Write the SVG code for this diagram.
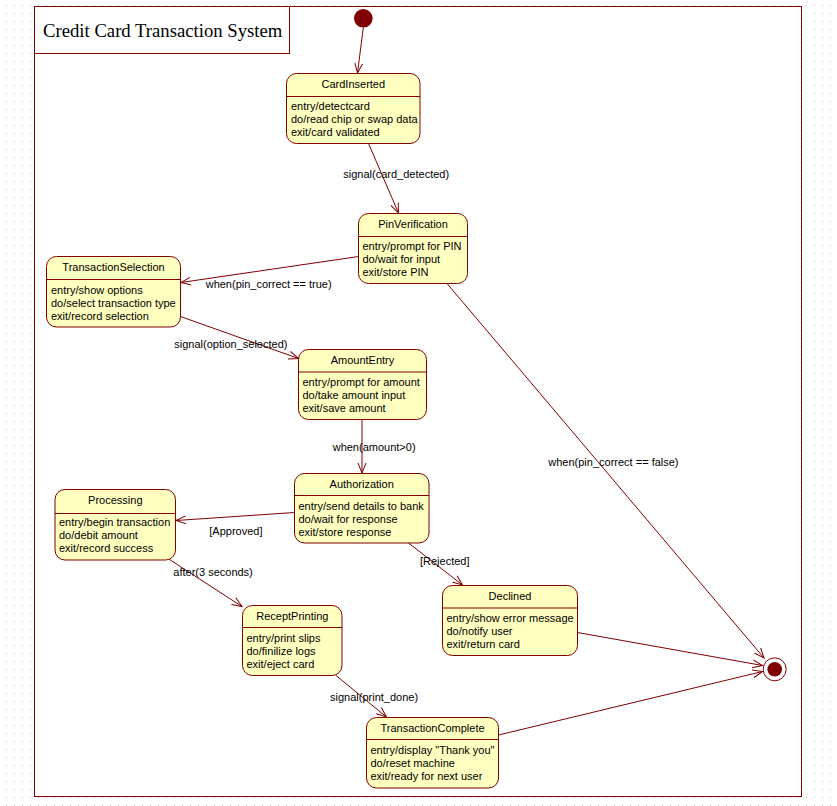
<svg xmlns="http://www.w3.org/2000/svg" width="837" height="806" viewBox="0 0 837 806">
<defs>
<pattern id="grid" x="0" y="0" width="8" height="8" patternUnits="userSpaceOnUse">
<rect x="6" y="5" width="1" height="1" fill="#c4c4c4"/>
</pattern>
<marker id="arr" markerWidth="12" markerHeight="12" refX="10" refY="5" orient="auto" markerUnits="userSpaceOnUse">
<path d="M0,1 L10,5 L0,9" fill="none" stroke="#800000" stroke-width="1"/>
</marker>
</defs>
<style>
.st{fill:#ffffc0;stroke:#800000;stroke-width:1}
.dv{stroke:#800000;stroke-width:1}
.nm{font-family:"Liberation Sans",Arial,sans-serif;font-size:11px;fill:#000;text-anchor:middle}
.bd{font-family:"Liberation Sans",Arial,sans-serif;font-size:11px;fill:#000}
.lb{font-family:"Liberation Sans",Arial,sans-serif;font-size:11px;fill:#000}
.cn{stroke:#800000;stroke-width:1;fill:none;marker-end:url(#arr)}
</style>
<rect width="837" height="806" fill="#ffffff"/>
<rect width="837" height="806" fill="url(#grid)"/>
<rect x="34.5" y="6.5" width="767" height="790" fill="#ffffff" stroke="#800000" stroke-width="1"/>
<g id="title">
<rect x="34.5" y="6.5" width="255" height="47" fill="#ffffff" stroke="#800000" stroke-width="1"/>
<text x="43" y="37" font-family="'Liberation Serif','Times New Roman',serif" font-size="18.7px" fill="#000">Credit Card Transaction System</text>
</g>
<g id="initial">
<circle cx="363.3" cy="18.3" r="9.3" fill="#800000"/>
</g>
<g id="final">
<circle cx="774.7" cy="669.3" r="11.5" fill="#ffffff" stroke="#800000" stroke-width="1"/>
<circle cx="774.7" cy="669.3" r="7.3" fill="#800000"/>
</g>
<g id="CardInserted">
<rect class="st" x="286.5" y="73.5" width="133.5" height="70" rx="10"/>
<line class="dv" x1="286.5" y1="96.5" x2="420" y2="96.5"/>
<text class="nm" x="353.3" y="88">CardInserted</text>
<text class="bd" x="291" y="110">entry/detectcard</text>
<text class="bd" x="291" y="123">do/read chip or swap data</text>
<text class="bd" x="291" y="136">exit/card validated</text>
</g>
<g id="PinVerification">
<rect class="st" x="358.5" y="213.5" width="109" height="70" rx="10"/>
<line class="dv" x1="358.5" y1="236.5" x2="467.5" y2="236.5"/>
<text class="nm" x="413" y="228">PinVerification</text>
<text class="bd" x="362.5" y="250">entry/prompt for PIN</text>
<text class="bd" x="362.5" y="263">do/wait for input</text>
<text class="bd" x="362.5" y="276">exit/store PIN</text>
</g>
<g id="TransactionSelection">
<rect class="st" x="46.5" y="256.5" width="134" height="70.5" rx="10"/>
<line class="dv" x1="46.5" y1="279.5" x2="180.5" y2="279.5"/>
<text class="nm" x="113.5" y="271">TransactionSelection</text>
<text class="bd" x="51" y="293.5">entry/show options</text>
<text class="bd" x="51" y="306.5">do/select transaction type</text>
<text class="bd" x="51" y="319.5">exit/record selection</text>
</g>
<g id="AmountEntry">
<rect class="st" x="298.5" y="349.5" width="128" height="70" rx="10"/>
<line class="dv" x1="298.5" y1="372" x2="426.5" y2="372"/>
<text class="nm" x="362.5" y="364">AmountEntry</text>
<text class="bd" x="302.5" y="386">entry/prompt for amount</text>
<text class="bd" x="302.5" y="399">do/take amount input</text>
<text class="bd" x="302.5" y="412">exit/save amount</text>
</g>
<g id="Authorization">
<rect class="st" x="294.5" y="473.5" width="134.5" height="69.5" rx="10"/>
<line class="dv" x1="294.5" y1="495.5" x2="429" y2="495.5"/>
<text class="nm" x="361.7" y="488">Authorization</text>
<text class="bd" x="298.5" y="510">entry/send details to bank</text>
<text class="bd" x="298.5" y="523">do/wait for response</text>
<text class="bd" x="298.5" y="536">exit/store response</text>
</g>
<g id="Processing">
<rect class="st" x="55" y="489.5" width="120.5" height="70.5" rx="10"/>
<line class="dv" x1="55" y1="513.5" x2="175.5" y2="513.5"/>
<text class="nm" x="115.3" y="504">Processing</text>
<text class="bd" x="59" y="526">entry/begin transaction</text>
<text class="bd" x="59" y="539">do/debit amount</text>
<text class="bd" x="59" y="552">exit/record success</text>
</g>
<g id="Declined">
<rect class="st" x="442.5" y="585.5" width="135" height="70" rx="10"/>
<line class="dv" x1="442.5" y1="608" x2="577.5" y2="608"/>
<text class="nm" x="510" y="600">Declined</text>
<text class="bd" x="446.5" y="622">entry/show error message</text>
<text class="bd" x="446.5" y="635">do/notify user</text>
<text class="bd" x="446.5" y="648">exit/return card</text>
</g>
<g id="ReceptPrinting">
<rect class="st" x="242.5" y="605.5" width="99.5" height="70" rx="10"/>
<line class="dv" x1="242.5" y1="627.5" x2="342" y2="627.5"/>
<text class="nm" x="292.3" y="620">ReceptPrinting</text>
<text class="bd" x="246.5" y="642">entry/print slips</text>
<text class="bd" x="246.5" y="655">do/finilize logs</text>
<text class="bd" x="246.5" y="668">exit/eject card</text>
</g>
<g id="TransactionComplete">
<rect class="st" x="366.5" y="717.5" width="132" height="70.5" rx="10"/>
<line class="dv" x1="366.5" y1="739.5" x2="498.5" y2="739.5"/>
<text class="nm" x="432.5" y="732">TransactionComplete</text>
<text class="bd" x="370.5" y="754">entry/display "Thank you"</text>
<text class="bd" x="370.5" y="767">do/reset machine</text>
<text class="bd" x="370.5" y="780">exit/ready for next user</text>
</g>
<g id="connectors">
<line class="cn" x1="363.3" y1="27.6" x2="357.5" y2="73"/>
<line class="cn" x1="368.5" y1="143.5" x2="398.5" y2="213"/>
<line class="cn" x1="358.5" y1="256.5" x2="181" y2="282.5"/>
<line class="cn" x1="180.5" y1="316.5" x2="298.5" y2="358.5"/>
<line class="cn" x1="362" y1="419.5" x2="362" y2="473"/>
<line class="cn" x1="294.5" y1="512.5" x2="176" y2="520.5"/>
<line class="cn" x1="408.5" y1="543" x2="462.5" y2="585"/>
<line class="cn" x1="169.5" y1="559.5" x2="242" y2="606.5"/>
<line class="cn" x1="336" y1="675.5" x2="386.5" y2="717"/>
<line class="cn" x1="498.5" y1="735" x2="762.5" y2="671.5"/>
<line class="cn" x1="577.5" y1="632.5" x2="762.5" y2="665.5"/>
<line class="cn" x1="447" y1="283.5" x2="764" y2="658"/>
<text class="lb" x="343.3" y="178">signal(card_detected)</text>
<text class="lb" x="205.7" y="287.5">when(pin_correct == true)</text>
<text class="lb" x="174.3" y="347.5">signal(option_selected)</text>
<text class="lb" x="332.7" y="451">when(amount&gt;0)</text>
<text class="lb" x="209.3" y="535">[Approved]</text>
<text class="lb" x="173.3" y="576">after(3 seconds)</text>
<text class="lb" x="420" y="565">[Rejected]</text>
<text class="lb" x="330" y="701">signal(print_done)</text>
<text class="lb" x="548.3" y="466">when(pin_correct == false)</text>
</g>
</svg>
